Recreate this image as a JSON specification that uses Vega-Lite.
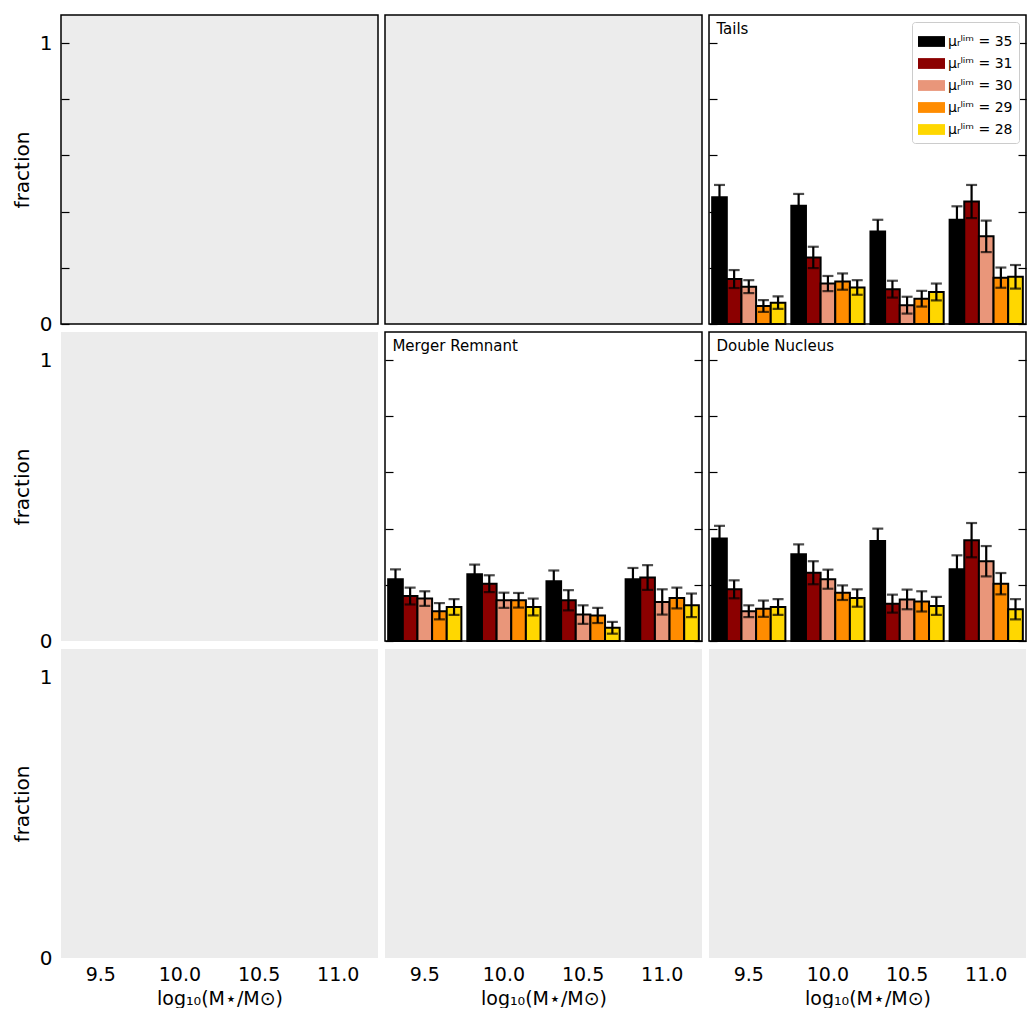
{
  "$schema": "https://vega.github.io/schema/vega-lite/v6.json",
  "background": "white",
  "padding": {"left": 11, "top": 14, "right": 0, "bottom": 0},
  "bounds": "flush",
  "config": {
    "font": "DejaVu Sans",
    "axis": {"labelFont": "DejaVu Sans", "titleFont": "DejaVu Sans", "labelColor": "black", "titleColor": "black", "titleFontWeight": "normal", "grid": false, "domain": false, "tickColor": "black", "tickWidth": 1.2},
    "title": {"font": "DejaVu Sans", "fontWeight": "normal", "fontSize": 15, "color": "black"},
    "legend": {"labelFont": "DejaVu Sans"}
  },
  "datasets": {
    "bars": [
      {"panel": "Tails", "m": "9.5", "mu": "35", "f": 0.451, "lo": 0.407, "hi": 0.495},
      {"panel": "Tails", "m": "9.5", "mu": "31", "f": 0.160, "lo": 0.128, "hi": 0.192},
      {"panel": "Tails", "m": "9.5", "mu": "30", "f": 0.133, "lo": 0.110, "hi": 0.156},
      {"panel": "Tails", "m": "9.5", "mu": "29", "f": 0.064, "lo": 0.043, "hi": 0.085},
      {"panel": "Tails", "m": "9.5", "mu": "28", "f": 0.076, "lo": 0.054, "hi": 0.098},
      {"panel": "Tails", "m": "10.0", "mu": "35", "f": 0.421, "lo": 0.379, "hi": 0.463},
      {"panel": "Tails", "m": "10.0", "mu": "31", "f": 0.237, "lo": 0.199, "hi": 0.275},
      {"panel": "Tails", "m": "10.0", "mu": "30", "f": 0.144, "lo": 0.117, "hi": 0.171},
      {"panel": "Tails", "m": "10.0", "mu": "29", "f": 0.151, "lo": 0.122, "hi": 0.180},
      {"panel": "Tails", "m": "10.0", "mu": "28", "f": 0.130, "lo": 0.104, "hi": 0.156},
      {"panel": "Tails", "m": "10.5", "mu": "35", "f": 0.329, "lo": 0.287, "hi": 0.371},
      {"panel": "Tails", "m": "10.5", "mu": "31", "f": 0.124, "lo": 0.094, "hi": 0.154},
      {"panel": "Tails", "m": "10.5", "mu": "30", "f": 0.067, "lo": 0.037, "hi": 0.097},
      {"panel": "Tails", "m": "10.5", "mu": "29", "f": 0.090, "lo": 0.062, "hi": 0.118},
      {"panel": "Tails", "m": "10.5", "mu": "28", "f": 0.114, "lo": 0.084, "hi": 0.144},
      {"panel": "Tails", "m": "11.0", "mu": "35", "f": 0.371, "lo": 0.323, "hi": 0.419},
      {"panel": "Tails", "m": "11.0", "mu": "31", "f": 0.436, "lo": 0.377, "hi": 0.495},
      {"panel": "Tails", "m": "11.0", "mu": "30", "f": 0.312, "lo": 0.256, "hi": 0.368},
      {"panel": "Tails", "m": "11.0", "mu": "29", "f": 0.165, "lo": 0.129, "hi": 0.201},
      {"panel": "Tails", "m": "11.0", "mu": "28", "f": 0.168, "lo": 0.126, "hi": 0.210},
      {"panel": "Merger Remnant", "m": "9.5", "mu": "35", "f": 0.220, "lo": 0.185, "hi": 0.255},
      {"panel": "Merger Remnant", "m": "9.5", "mu": "31", "f": 0.160, "lo": 0.130, "hi": 0.190},
      {"panel": "Merger Remnant", "m": "9.5", "mu": "30", "f": 0.151, "lo": 0.125, "hi": 0.177},
      {"panel": "Merger Remnant", "m": "9.5", "mu": "29", "f": 0.106, "lo": 0.077, "hi": 0.135},
      {"panel": "Merger Remnant", "m": "9.5", "mu": "28", "f": 0.121, "lo": 0.093, "hi": 0.149},
      {"panel": "Merger Remnant", "m": "10.0", "mu": "35", "f": 0.238, "lo": 0.204, "hi": 0.272},
      {"panel": "Merger Remnant", "m": "10.0", "mu": "31", "f": 0.204, "lo": 0.174, "hi": 0.234},
      {"panel": "Merger Remnant", "m": "10.0", "mu": "30", "f": 0.145, "lo": 0.118, "hi": 0.172},
      {"panel": "Merger Remnant", "m": "10.0", "mu": "29", "f": 0.145, "lo": 0.119, "hi": 0.171},
      {"panel": "Merger Remnant", "m": "10.0", "mu": "28", "f": 0.121, "lo": 0.091, "hi": 0.151},
      {"panel": "Merger Remnant", "m": "10.5", "mu": "35", "f": 0.213, "lo": 0.175, "hi": 0.251},
      {"panel": "Merger Remnant", "m": "10.5", "mu": "31", "f": 0.145, "lo": 0.109, "hi": 0.181},
      {"panel": "Merger Remnant", "m": "10.5", "mu": "30", "f": 0.094, "lo": 0.061, "hi": 0.127},
      {"panel": "Merger Remnant", "m": "10.5", "mu": "29", "f": 0.091, "lo": 0.064, "hi": 0.118},
      {"panel": "Merger Remnant", "m": "10.5", "mu": "28", "f": 0.047, "lo": 0.026, "hi": 0.068},
      {"panel": "Merger Remnant", "m": "11.0", "mu": "35", "f": 0.220, "lo": 0.180, "hi": 0.260},
      {"panel": "Merger Remnant", "m": "11.0", "mu": "31", "f": 0.226, "lo": 0.182, "hi": 0.270},
      {"panel": "Merger Remnant", "m": "11.0", "mu": "30", "f": 0.139, "lo": 0.094, "hi": 0.184},
      {"panel": "Merger Remnant", "m": "11.0", "mu": "29", "f": 0.153, "lo": 0.116, "hi": 0.190},
      {"panel": "Merger Remnant", "m": "11.0", "mu": "28", "f": 0.127, "lo": 0.085, "hi": 0.169},
      {"panel": "Double Nucleus", "m": "9.5", "mu": "35", "f": 0.365, "lo": 0.320, "hi": 0.410},
      {"panel": "Double Nucleus", "m": "9.5", "mu": "31", "f": 0.184, "lo": 0.152, "hi": 0.216},
      {"panel": "Double Nucleus", "m": "9.5", "mu": "30", "f": 0.106, "lo": 0.085, "hi": 0.127},
      {"panel": "Double Nucleus", "m": "9.5", "mu": "29", "f": 0.115, "lo": 0.086, "hi": 0.144},
      {"panel": "Double Nucleus", "m": "9.5", "mu": "28", "f": 0.121, "lo": 0.093, "hi": 0.149},
      {"panel": "Double Nucleus", "m": "10.0", "mu": "35", "f": 0.309, "lo": 0.274, "hi": 0.344},
      {"panel": "Double Nucleus", "m": "10.0", "mu": "31", "f": 0.243, "lo": 0.202, "hi": 0.284},
      {"panel": "Double Nucleus", "m": "10.0", "mu": "30", "f": 0.220, "lo": 0.186, "hi": 0.254},
      {"panel": "Double Nucleus", "m": "10.0", "mu": "29", "f": 0.172, "lo": 0.146, "hi": 0.198},
      {"panel": "Double Nucleus", "m": "10.0", "mu": "28", "f": 0.153, "lo": 0.122, "hi": 0.184},
      {"panel": "Double Nucleus", "m": "10.5", "mu": "35", "f": 0.356, "lo": 0.312, "hi": 0.400},
      {"panel": "Double Nucleus", "m": "10.5", "mu": "31", "f": 0.133, "lo": 0.101, "hi": 0.165},
      {"panel": "Double Nucleus", "m": "10.5", "mu": "30", "f": 0.148, "lo": 0.113, "hi": 0.183},
      {"panel": "Double Nucleus", "m": "10.5", "mu": "29", "f": 0.141, "lo": 0.105, "hi": 0.177},
      {"panel": "Double Nucleus", "m": "10.5", "mu": "28", "f": 0.125, "lo": 0.093, "hi": 0.157},
      {"panel": "Double Nucleus", "m": "11.0", "mu": "35", "f": 0.255, "lo": 0.205, "hi": 0.305},
      {"panel": "Double Nucleus", "m": "11.0", "mu": "31", "f": 0.359, "lo": 0.298, "hi": 0.420},
      {"panel": "Double Nucleus", "m": "11.0", "mu": "30", "f": 0.284, "lo": 0.230, "hi": 0.338},
      {"panel": "Double Nucleus", "m": "11.0", "mu": "29", "f": 0.204, "lo": 0.166, "hi": 0.242},
      {"panel": "Double Nucleus", "m": "11.0", "mu": "28", "f": 0.113, "lo": 0.077, "hi": 0.149}
    ]
  },
  "columns": 3,
  "spacing": {"row": 8, "column": 7},
  "resolve": {"scale": {"color": "independent"}, "legend": {"color": "independent"}},
  "concat": [
    {
      "width": 317, "height": 309,
      "view": {"fill": "#ececec", "stroke": "black", "strokeWidth": 1.5},
      "data": {"name": "bars"},
      "transform": [{"filter": "datum.panel == 'none'"}],
      "mark": "bar",
      "encoding": {
        "x": {"field": "m", "type": "ordinal", "scale": {"domain": ["9.5", "10.0", "10.5", "11.0"], "paddingInner": 0.075, "paddingOuter": 0.04}, "axis": null},
        "y": {"field": "f", "type": "quantitative", "scale": {"domain": [0, 1.1], "nice": false}, "axis": {"values": [0, 0.2, 0.4, 0.6, 0.8, 1], "labelExpr": "datum.value == 0 ? '0' : datum.value == 1 ? '1' : ''", "tickSize": -8, "labelPadding": 17, "labelFontSize": 20, "title": "fraction", "titleFontSize": 20, "titlePadding": 7}}
      }
    },
    {
      "width": 317, "height": 309,
      "view": {"fill": "#ececec", "stroke": "black", "strokeWidth": 1.5},
      "data": {"name": "bars"},
      "transform": [{"filter": "datum.panel == 'none'"}],
      "mark": "bar",
      "encoding": {
        "x": {"field": "m", "type": "ordinal", "scale": {"domain": ["9.5", "10.0", "10.5", "11.0"], "paddingInner": 0.075, "paddingOuter": 0.04}, "axis": null},
        "y": {"field": "f", "type": "quantitative", "scale": {"domain": [0, 1.1], "nice": false}, "axis": null}
      }
    },
    {
      "width": 317, "height": 309,
      "view": {"fill": "white", "stroke": "black", "strokeWidth": 1.5},
      "title": {"text": "Tails", "anchor": "start", "offset": -22, "dx": 8, "fontSize": 15},
      "data": {"name": "bars"},
      "transform": [{"filter": "datum.panel == 'Tails'"}],
      "encoding": {
        "x": {"field": "m", "type": "ordinal", "scale": {"domain": ["9.5", "10.0", "10.5", "11.0"], "paddingInner": 0.075, "paddingOuter": 0.04}, "axis": null},
        "xOffset": {"field": "mu", "type": "nominal", "scale": {"domain": ["35", "31", "30", "29", "28"]}}
      },
      "layer": [
        {
          "mark": {"type": "bar", "stroke": "black", "strokeWidth": 2},
          "encoding": {
            "y": {"field": "f", "type": "quantitative", "scale": {"domain": [0, 1.1], "nice": false}, "axis": {"values": [0, 0.2, 0.4, 0.6, 0.8, 1], "labels": false, "tickSize": -8, "title": null}},
            "color": {"field": "mu", "type": "nominal", "scale": {"domain": ["35", "31", "30", "29", "28"], "range": ["#000000", "#8b0000", "#e9967a", "#ff8c00", "#ffd700"]},
              "legend": {"orient": "top-right", "offset": 7, "title": null, "fillColor": "white", "strokeColor": "#cccccc", "padding": 6, "cornerRadius": 3, "symbolType": "M-1,-0.4H1V0.4H-1Z", "symbolSize": 729, "symbolStrokeWidth": 0, "symbolOpacity": 1, "labelFontSize": 14, "labelOffset": 3, "rowPadding": 1, "labelExpr": "'μᵣˡⁱᵐ = ' + datum.label"}}
          }
        },
        {
          "mark": {"type": "rule", "color": "black", "strokeWidth": 2.2},
          "encoding": {
            "y": {"field": "lo", "type": "quantitative", "axis": {"orient": "right", "values": [0, 0.2, 0.4, 0.6, 0.8, 1], "labels": false, "tickSize": -8, "title": null}},
            "y2": {"field": "hi"}
          }
        },
        {
          "mark": {"type": "tick", "color": "black", "thickness": 2.2, "size": 11},
          "encoding": {"y": {"field": "lo", "type": "quantitative", "axis": null}}
        },
        {
          "mark": {"type": "tick", "color": "black", "thickness": 2.2, "size": 11},
          "encoding": {"y": {"field": "hi", "type": "quantitative", "axis": null}}
        }
      ],
      "resolve": {"axis": {"y": "independent"}}
    },
    {
      "width": 317, "height": 309,
      "view": {"fill": "#ececec", "stroke": null},
      "data": {"name": "bars"},
      "transform": [{"filter": "datum.panel == 'none'"}],
      "mark": "bar",
      "encoding": {
        "x": {"field": "m", "type": "ordinal", "scale": {"domain": ["9.5", "10.0", "10.5", "11.0"], "paddingInner": 0.075, "paddingOuter": 0.04}, "axis": null},
        "y": {"field": "f", "type": "quantitative", "scale": {"domain": [0, 1.1], "nice": false}, "axis": {"values": [0, 1], "labelExpr": "datum.value == 0 ? '0' : '1'", "ticks": false, "labelPadding": 9, "labelFontSize": 20, "title": "fraction", "titleFontSize": 20, "titlePadding": 7}}
      }
    },
    {
      "width": 317, "height": 309,
      "view": {"fill": "white", "stroke": "black", "strokeWidth": 1.5},
      "title": {"text": "Merger Remnant", "anchor": "start", "offset": -22, "dx": 8, "fontSize": 15},
      "data": {"name": "bars"},
      "transform": [{"filter": "datum.panel == 'Merger Remnant'"}],
      "encoding": {
        "x": {"field": "m", "type": "ordinal", "scale": {"domain": ["9.5", "10.0", "10.5", "11.0"], "paddingInner": 0.075, "paddingOuter": 0.04}, "axis": null},
        "xOffset": {"field": "mu", "type": "nominal", "scale": {"domain": ["35", "31", "30", "29", "28"]}}
      },
      "layer": [
        {
          "mark": {"type": "bar", "stroke": "black", "strokeWidth": 2},
          "encoding": {
            "y": {"field": "f", "type": "quantitative", "scale": {"domain": [0, 1.1], "nice": false}, "axis": {"values": [0, 0.2, 0.4, 0.6, 0.8, 1], "labels": false, "tickSize": -8, "title": null}},
            "color": {"field": "mu", "type": "nominal", "scale": {"domain": ["35", "31", "30", "29", "28"], "range": ["#000000", "#8b0000", "#e9967a", "#ff8c00", "#ffd700"]}, "legend": null}
          }
        },
        {
          "mark": {"type": "rule", "color": "black", "strokeWidth": 2.2},
          "encoding": {
            "y": {"field": "lo", "type": "quantitative", "axis": {"orient": "right", "values": [0, 0.2, 0.4, 0.6, 0.8, 1], "labels": false, "tickSize": -8, "title": null}},
            "y2": {"field": "hi"}
          }
        },
        {
          "mark": {"type": "tick", "color": "black", "thickness": 2.2, "size": 11},
          "encoding": {"y": {"field": "lo", "type": "quantitative", "axis": null}}
        },
        {
          "mark": {"type": "tick", "color": "black", "thickness": 2.2, "size": 11},
          "encoding": {"y": {"field": "hi", "type": "quantitative", "axis": null}}
        }
      ],
      "resolve": {"axis": {"y": "independent"}}
    },
    {
      "width": 317, "height": 309,
      "view": {"fill": "white", "stroke": "black", "strokeWidth": 1.5},
      "title": {"text": "Double Nucleus", "anchor": "start", "offset": -22, "dx": 8, "fontSize": 15},
      "data": {"name": "bars"},
      "transform": [{"filter": "datum.panel == 'Double Nucleus'"}],
      "encoding": {
        "x": {"field": "m", "type": "ordinal", "scale": {"domain": ["9.5", "10.0", "10.5", "11.0"], "paddingInner": 0.075, "paddingOuter": 0.04}, "axis": null},
        "xOffset": {"field": "mu", "type": "nominal", "scale": {"domain": ["35", "31", "30", "29", "28"]}}
      },
      "layer": [
        {
          "mark": {"type": "bar", "stroke": "black", "strokeWidth": 2},
          "encoding": {
            "y": {"field": "f", "type": "quantitative", "scale": {"domain": [0, 1.1], "nice": false}, "axis": {"values": [0, 0.2, 0.4, 0.6, 0.8, 1], "labels": false, "tickSize": -8, "title": null}},
            "color": {"field": "mu", "type": "nominal", "scale": {"domain": ["35", "31", "30", "29", "28"], "range": ["#000000", "#8b0000", "#e9967a", "#ff8c00", "#ffd700"]}, "legend": null}
          }
        },
        {
          "mark": {"type": "rule", "color": "black", "strokeWidth": 2.2},
          "encoding": {
            "y": {"field": "lo", "type": "quantitative", "axis": {"orient": "right", "values": [0, 0.2, 0.4, 0.6, 0.8, 1], "labels": false, "tickSize": -8, "title": null}},
            "y2": {"field": "hi"}
          }
        },
        {
          "mark": {"type": "tick", "color": "black", "thickness": 2.2, "size": 11},
          "encoding": {"y": {"field": "lo", "type": "quantitative", "axis": null}}
        },
        {
          "mark": {"type": "tick", "color": "black", "thickness": 2.2, "size": 11},
          "encoding": {"y": {"field": "hi", "type": "quantitative", "axis": null}}
        }
      ],
      "resolve": {"axis": {"y": "independent"}}
    },
    {
      "width": 317, "height": 309,
      "view": {"fill": "#ececec", "stroke": null},
      "data": {"name": "bars"},
      "transform": [{"filter": "datum.panel == 'none'"}],
      "mark": "bar",
      "encoding": {
        "x": {"field": "m", "type": "ordinal", "scale": {"domain": ["9.5", "10.0", "10.5", "11.0"], "paddingInner": 0.075, "paddingOuter": 0.04}, "axis": {"labelAngle": 0, "ticks": false, "labelPadding": 7, "labelFontSize": 19, "title": "log₁₀(M⋆/M⊙)", "titleFontSize": 19, "titlePadding": 5}},
        "y": {"field": "f", "type": "quantitative", "scale": {"domain": [0, 1.1], "nice": false}, "axis": {"values": [0, 1], "labelExpr": "datum.value == 0 ? '0' : '1'", "ticks": false, "labelPadding": 9, "labelFontSize": 20, "title": "fraction", "titleFontSize": 20, "titlePadding": 7}}
      }
    },
    {
      "width": 317, "height": 309,
      "view": {"fill": "#ececec", "stroke": null},
      "data": {"name": "bars"},
      "transform": [{"filter": "datum.panel == 'none'"}],
      "mark": "bar",
      "encoding": {
        "x": {"field": "m", "type": "ordinal", "scale": {"domain": ["9.5", "10.0", "10.5", "11.0"], "paddingInner": 0.075, "paddingOuter": 0.04}, "axis": {"labelAngle": 0, "ticks": false, "labelPadding": 7, "labelFontSize": 19, "title": "log₁₀(M⋆/M⊙)", "titleFontSize": 19, "titlePadding": 5}},
        "y": {"field": "f", "type": "quantitative", "scale": {"domain": [0, 1.1], "nice": false}, "axis": null}
      }
    },
    {
      "width": 317, "height": 309,
      "view": {"fill": "#ececec", "stroke": null},
      "data": {"name": "bars"},
      "transform": [{"filter": "datum.panel == 'none'"}],
      "mark": "bar",
      "encoding": {
        "x": {"field": "m", "type": "ordinal", "scale": {"domain": ["9.5", "10.0", "10.5", "11.0"], "paddingInner": 0.075, "paddingOuter": 0.04}, "axis": {"labelAngle": 0, "ticks": false, "labelPadding": 7, "labelFontSize": 19, "title": "log₁₀(M⋆/M⊙)", "titleFontSize": 19, "titlePadding": 5}},
        "y": {"field": "f", "type": "quantitative", "scale": {"domain": [0, 1.1], "nice": false}, "axis": null}
      }
    }
  ]
}
